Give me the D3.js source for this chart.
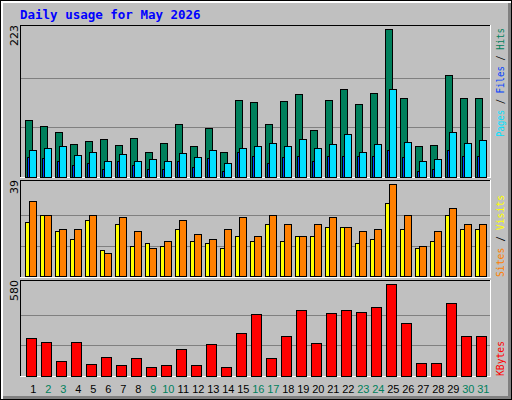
<!DOCTYPE html>
<html><head><meta charset="utf-8">
<script src="https://cdn.jsdelivr.net/npm/d3@7"></script>
<style>body{margin:0;background:#fff}svg{display:block}</style>
</head><body>
<script>
const days = d3.range(1,32);
const weekend = [2,3,9,10,16,17,23,24,30,31];
const hits = [85,76,68,49,53,56,47,58,37,50,80,46,74,37,115,112,80,114,124,71,115,133,109,126,223,118,46,47,153,118,118];
const pages = [40,43,46,32,37,24,34,24,26,23,35,29,40,21,43,46,50,46,56,43,49,65,37,49,133,52,24,26,67,50,55];
const files = [29,28,24,17,21,12,23,18,12,12,24,15,28,9,37,31,20,29,31,23,31,31,31,31,40,29,9,11,40,31,31];
const visits = [32,26,20,20,26,10,25,19,12,15,24,18,16,20,25,17,26,22,17,22,25,21,19,20,39,26,13,19,29,22,22];
const sites = [23,26,19,16,24,11,22,13,14,13,20,15,14,12,17,15,22,15,17,17,21,21,14,16,31,20,12,15,26,20,20];
const kbytes = [237,212,91,212,72,116,66,110,53,66,167,66,199,53,269,390,110,250,415,205,396,415,402,434,580,332,78,78,459,250,250];
const maxHits = 223, maxVisits = 39, maxKB = 580;

const svg = d3.select("body").append("svg").attr("width",512).attr("height",400);
svg.append("rect").attr("x",0).attr("y",0).attr("width",512).attr("height",400).attr("fill","#000");
svg.append("rect").attr("x",1).attr("y",1).attr("width",510).attr("height",398).attr("fill","#fff");
svg.append("rect").attr("x",3).attr("y",3).attr("width",508).attr("height",396).attr("fill","#808080");
svg.append("rect").attr("x",3).attr("y",3).attr("width",505).attr("height",393).attr("fill","#C0C0C0");

svg.append("text").attr("x",20).attr("y",19).attr("fill","#0000FF")
  .attr("font-family","DejaVu Sans Mono").attr("font-weight","bold").attr("font-size",12.5)
  .text("Daily usage for May 2026");

const x = d3.scaleLinear().domain([1,32]).range([25.3, 25.3+31*15]);
const yTop = d3.scaleLinear().domain([0,maxHits]).range([176.5,29]);
const yMid = d3.scaleLinear().domain([0,maxVisits]).range([276.3,184.3]);
const yBot = d3.scaleLinear().domain([0,maxKB]).range([375.7,284.3]);

function panel(y0,y1,scale,max){
  svg.append("line").attr("x1",20.5).attr("x2",490.5).attr("y1",y0+.5).attr("y2",y0+.5).attr("stroke","#000");
  svg.append("line").attr("x1",20.5).attr("x2",20.5).attr("y1",y0).attr("y2",y1).attr("stroke","#000");
  svg.append("line").attr("x1",20).attr("x2",491).attr("y1",y1+.5).attr("y2",y1+.5).attr("stroke","#fff");
  svg.append("line").attr("x1",490.5).attr("x2",490.5).attr("y1",y0).attr("y2",y1+1).attr("stroke","#fff");
  [max/3, max*2/3].forEach(v=>{
    const yy = Math.round(scale(v))+.5;
    svg.append("line").attr("x1",21).attr("x2",490).attr("y1",yy).attr("y2",yy).attr("stroke","#808080");
  });
}
panel(25,177,yTop,maxHits);
panel(180,277,yMid,maxVisits);
panel(280,376,yBot,maxKB);

function bars(data,scale,dx,w,color){
  svg.append("g").selectAll("rect").data(data).join("rect")
    .attr("x",(d,i)=>Math.round(x(days[i])+dx)+.5)
    .attr("y",d=>Math.round(scale(d))+.5)
    .attr("width",w)
    .attr("height",d=>Math.max(0,Math.round(scale(0))-Math.round(scale(d))))
    .attr("fill",color).attr("stroke","#000").attr("stroke-width",1);
}
bars(hits,yTop,0,7,"#00805C");
bars(files,yTop,2,2,"#0040FF");
bars(pages,yTop,4,7,"#00E0FF");
bars(sites,yMid,0,4,"#FFFF00");
bars(visits,yMid,4,7,"#FF8000");
bars(kbytes,yBot,1,10,"#FF0000");

svg.append("g").selectAll("text").data(days).join("text")
  .attr("x",d=>x(d)+8).attr("y",393).attr("text-anchor","middle")
  .attr("font-family","Liberation Sans").attr("font-size",11)
  .attr("fill",d=>weekend.includes(d)?"#00805C":"#000").text(d=>d);

function vlabel(xp,yp,txt,anchor){
  svg.append("text").attr("transform",`translate(18,${yp}) rotate(-90)`)
    .attr("text-anchor",anchor).attr("font-family","DejaVu Sans").attr("font-size",11)
    .attr("fill","#000").text(txt);
}
vlabel(18,25,String(maxHits),"end");
vlabel(18,180,String(maxVisits),"end");
vlabel(18,280,String(maxKB),"end");

function rlabel(yp,len,parts){
  const t = svg.append("text").attr("transform",`translate(504,${yp}) rotate(-90)`)
    .attr("text-anchor","start").attr("font-family","DejaVu Sans Mono").attr("font-size",10)
    .attr("textLength",len).attr("lengthAdjust","spacingAndGlyphs");
  parts.forEach(p=>t.append("tspan").attr("fill",p[1]).text(p[0]));
}
rlabel(137,109,[["Pages","#00E0FF"],[" / ","#000"],["Files","#0040FF"],[" / ","#000"],["Hits","#00805C"]]);
rlabel(277,82,[["Sites","#FF8000"],[" / ","#000"],["Visits","#FFFF00"]]);
rlabel(376,35,[["KBytes","#FF0000"]]);
</script>
</body></html>
